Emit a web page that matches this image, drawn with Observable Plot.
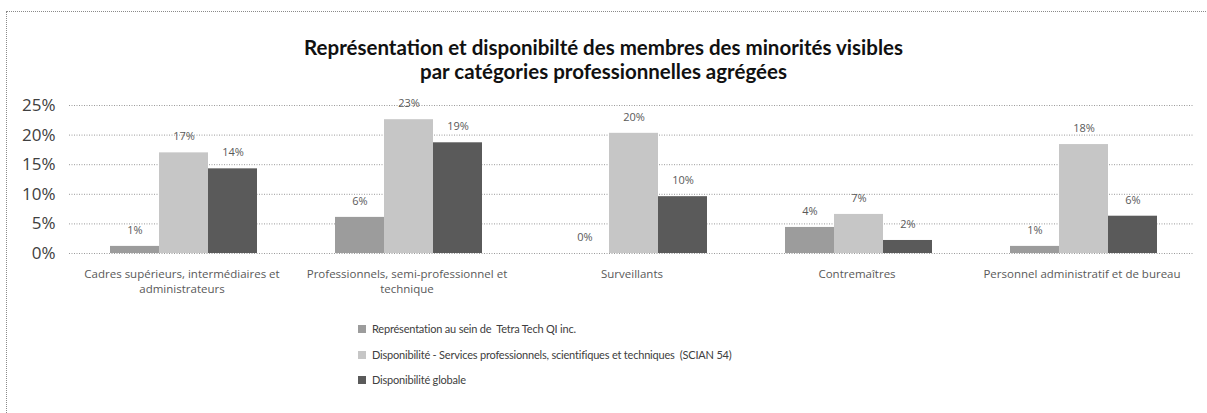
<!DOCTYPE html>
<html>
<head>
<meta charset="utf-8">
<script src="https://cdn.jsdelivr.net/npm/d3@7"></script>
<script src="https://cdn.jsdelivr.net/npm/@observablehq/plot@0.6"></script>
<style>
  html, body { margin: 0; padding: 0; background: #fff; }
  body { position: relative; width: 1207px; height: 413px; overflow: hidden; font-family: "Open Sans", sans-serif; }
  #frame { position: absolute; left: 6px; top: 11px; width: 1300px; height: 500px; border: 1px dotted #8a8a8a; box-sizing: border-box; }
  #title { position: absolute; left: 0; top: 35px; width: 1207px; text-align: center; font-family: Lato, sans-serif; font-weight: 700; font-size: 20.5px; line-height: 24px; color: #111; }
  #chart { position: absolute; left: 0; top: 90px; }
  #legend { position: absolute; left: 358px; top: 316px; font-family: Lato, sans-serif; font-size: 11px; letter-spacing: -0.2px; color: #404040; white-space: pre; }
  .item { height: 25.8px; line-height: 22px; display: flex; align-items: center; }
  .sw { width: 8px; height: 8px; margin-right: 6px; display: inline-block; }
</style>
</head>
<body>
<div id="frame"></div>
<div id="title">Représentation et disponibilté des membres des minorités visibles<br>par catégories professionnelles agrégées</div>
<div id="chart"></div>
<div id="legend"></div>
<script>
const categories = [
  "Cadres supérieurs, intermédiaires et administrateurs",
  "Professionnels, semi-professionnel et technique",
  "Surveillants",
  "Contremaîtres",
  "Personnel administratif et de bureau"
];
const categoryLabels = [
  "Cadres supérieurs, intermédiaires et\nadministrateurs",
  "Professionnels, semi-professionnel et\ntechnique",
  "Surveillants",
  "Contremaîtres",
  "Personnel administratif et de bureau"
];
const series = [
  "Représentation au sein de  Tetra Tech QI inc.",
  "Disponibilité - Services professionnels, scientifiques et techniques  (SCIAN 54)",
  "Disponibilité globale"
];
const representation = [1.2, 6.1, 0.0, 4.4, 1.2];
const disponibiliteSCIAN = [17.0, 22.6, 20.3, 6.6, 18.4];
const disponibiliteGlobale = [14.3, 18.7, 9.6, 2.2, 6.3];
const yTicks = [0, 5, 10, 15, 20, 25];
const colors = ["#9c9c9c", "#c6c6c6", "#5a5a5a"];

const seriesValues = [representation, disponibiliteSCIAN, disponibiliteGlobale];
const data = [];
categories.forEach((c, i) => {
  series.forEach((s, j) => data.push({category: c, series: s, value: seriesValues[j][i]}));
});

const chart = Plot.plot({
  width: 1207,
  height: 210,
  marginLeft: 68,
  marginRight: 12,
  marginTop: 15,
  marginBottom: 47,
  style: {fontFamily: "Open Sans, sans-serif", background: "transparent"},
  fx: {domain: categories, padding: 0, label: null, axis: null},
  x: {domain: series, paddingInner: 0, paddingOuter: 0.76, axis: null},
  y: {domain: [0, 25], label: null},
  color: {domain: series, range: colors},
  marks: [
    Plot.ruleY(yTicks, {stroke: "#9a9a9a", strokeWidth: 1, strokeDasharray: "1 1.5"}),
    Plot.barY(data, {fx: "category", x: "series", y: "value", fill: "series", dx: 2}),
    Plot.text(data, {fx: "category", x: "series", y: "value", text: d => Math.round(d.value) + "%", dy: -16, dx: 2, fontSize: 11, fill: "#595959"}),
    Plot.axisY({ticks: yTicks, tickFormat: d => d + "%", tickSize: 0, tickPadding: 14, fontSize: 17, fill: "#404040", label: null}),
    Plot.axisFx({anchor: "bottom", tickFormat: d => categoryLabels[categories.indexOf(d)], tickSize: 0, tickPadding: 13, fontSize: 11.5, lineHeight: 1.35, fill: "#595959", label: null})
  ]
});
document.getElementById("chart").appendChild(chart);

const legend = document.getElementById("legend");
series.forEach((s, j) => {
  const row = document.createElement("div");
  row.className = "item";
  const sw = document.createElement("span");
  sw.className = "sw";
  sw.style.background = colors[j];
  const t = document.createElement("span");
  t.textContent = s;
  row.appendChild(sw);
  row.appendChild(t);
  legend.appendChild(row);
});
</script>
</body>
</html>
